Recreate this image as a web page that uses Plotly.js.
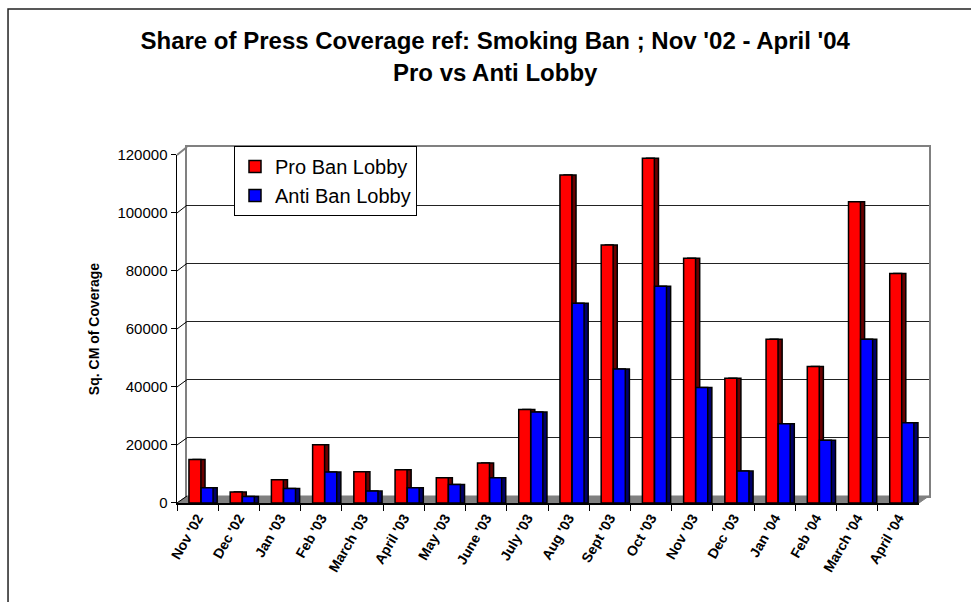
<!DOCTYPE html>
<html>
<head>
<meta charset="utf-8">
<script src="https://cdn.plot.ly/plotly-3.0.1.min.js"></script>
<style>
html,body{margin:0;padding:0;background:#fff;}
#chart{width:971px;height:602px;}
</style>
</head>
<body>
<div id="chart"></div>
<script>
// ---- data ----
var months = ["Nov '02","Dec '02","Jan '03","Feb '03","March '03","April '03","May '03","June '03","July '03",
              "Aug '03","Sept '03","Oct '03","Nov '03","Dec '03","Jan '04","Feb '04","March '04","April '04"];
var proBan  = [15000, 3800, 8000, 20100, 10800, 11500, 8700, 13800, 32200,
               113100, 89000, 118900, 84400, 43000, 56500, 47100, 103900, 79100];
var antiBan = [5300, 2200, 5000, 10700, 4100, 5300, 6400, 8700, 31400,
               68900, 46200, 74700, 39800, 11000, 27300, 21600, 56500, 27700];
var yTicks = [0, 20000, 40000, 60000, 80000, 100000, 120000];
var seriesNames = ["Pro Ban Lobby", "Anti Ban Lobby"];

// ---- geometry (styling) ----
var FONT = "Arial, 'Liberation Sans', sans-serif";
var frontX = [0, 0.9867], frontY = [0, 0.97753];
var backX = [0.013298, 1], backY = [0.019663, 1];
var yMax = 120000;
var barW = 0.29, redOff = -0.21, blueOff = 0.085, depth = 0.1;

var traces = [
  // empty trace so the back-wall axes are drawn
  {type:'scatter', x:[], y:[], xaxis:'x', yaxis:'y', showlegend:false, hoverinfo:'skip'},
  {type:'bar', x:months, y:proBan, xaxis:'x2', yaxis:'y2', showlegend:false, hoverinfo:'skip',
   width:barW, offset:redOff+depth, marker:{color:'#6a0000', line:{color:'#000', width:1.5}}},
  {type:'bar', x:months, y:proBan, name:seriesNames[0], xaxis:'x2', yaxis:'y2',
   width:barW, offset:redOff, marker:{color:'#ff0000', line:{color:'#000', width:1.5}}},
  {type:'bar', x:months, y:antiBan, xaxis:'x2', yaxis:'y2', showlegend:false, hoverinfo:'skip',
   width:barW, offset:blueOff+depth, marker:{color:'#00006a', line:{color:'#000', width:1.5}}},
  {type:'bar', x:months, y:antiBan, name:seriesNames[1], xaxis:'x2', yaxis:'y2',
   width:barW, offset:blueOff, marker:{color:'#0000ff', line:{color:'#000', width:1.5}}}
];

function fy(v){ return frontY[0] + v/yMax*(frontY[1]-frontY[0]); }
function by(v){ return backY[0] + v/yMax*(backY[1]-backY[0]); }

var shapes = [];
// floor
shapes.push({type:'path', xref:'paper', yref:'paper', layer:'below',
  path:'M '+frontX[0]+' '+frontY[0]+' L '+frontX[1]+' '+frontY[0]+' L '+backX[1]+' '+backY[0]+' L '+backX[0]+' '+backY[0]+' Z',
  fillcolor:'#808080', line:{color:'#808080', width:1}});
// left wall connectors
yTicks.forEach(function(v){
  shapes.push({type:'line', xref:'paper', yref:'paper', layer:'above',
    x0:frontX[0], y0:fy(v), x1:backX[0], y1:by(v),
    line:{color: v===yMax ? '#808080' : '#000', width: v===yMax ? 2 : 1}});
});
// outer chart frame (left and top edges)
shapes.push({type:'path', xref:'paper', yref:'paper', layer:'above',
  path:'M -0.2247 -0.31 L -0.2247 1.3876 L 1.06 1.3876', line:{color:'#222', width:1.5}});

var layout = {
  width:971, height:602,
  margin:{l:177, r:42, t:147, b:99},
  paper_bgcolor:'#fff', plot_bgcolor:'rgba(0,0,0,0)',
  font:{family:FONT, color:'#000'},
  title:{text:"<b>Share of Press Coverage ref: Smoking Ban ; Nov '02 - April '04</b><br><b>Pro vs Anti Lobby</b>",
         font:{family:FONT, size:24, color:'#000'}, xref:'container', x:0.51, xanchor:'center',
         yref:'container', y:0.918, yanchor:'top'},
  barmode:'overlay',
  showlegend:true,
  legend:{x:0.0758, y:1.003, xanchor:'left', yanchor:'top', bgcolor:'#fff', bordercolor:'#000', borderwidth:1,
          font:{family:FONT, size:20, color:'#000'}, traceorder:'normal', itemwidth:30},
  // back wall
  xaxis:{domain:backX, anchor:'y', range:[0,1], showgrid:false, zeroline:false, showticklabels:false,
         ticks:'', showline:true, mirror:true, linecolor:'#808080', linewidth:2, fixedrange:true},
  yaxis:{domain:backY, anchor:'x', range:[0,yMax], tickvals:yTicks, showgrid:true, gridcolor:'#222', gridwidth:1,
         zeroline:false, showticklabels:false, ticks:'', showline:true, mirror:true, linecolor:'#808080', linewidth:2, fixedrange:true},
  // front (bars)
  xaxis2:{domain:frontX, anchor:'y2', type:'category', categoryorder:'array', categoryarray:months,
          range:[-0.5, months.length-0.5], showgrid:false, zeroline:false,
          showline:true, linecolor:'#000', linewidth:1.5, ticks:'outside', tickson:'boundaries', ticklen:6, tickcolor:'#000',
          tickangle:-60, tickfont:{family:FONT, size:14, color:'#000', weight:'bold'}, fixedrange:true},
  yaxis2:{domain:frontY, anchor:'x2', range:[0,yMax], tickvals:yTicks, ticktext:yTicks.map(String), showgrid:false, zeroline:false,
          showline:true, linecolor:'#000', linewidth:1.5, ticks:'outside', ticklen:5, tickcolor:'#000',
          tickfont:{family:FONT, size:15, color:'#000'},
          title:{text:'<b>Sq. CM of Coverage</b>', font:{family:FONT, size:14, color:'#000'}, standoff:14}, fixedrange:true},
  shapes:shapes
};

Plotly.newPlot('chart', traces, layout, {displayModeBar:false, staticPlot:true});
</script>
</body>
</html>
